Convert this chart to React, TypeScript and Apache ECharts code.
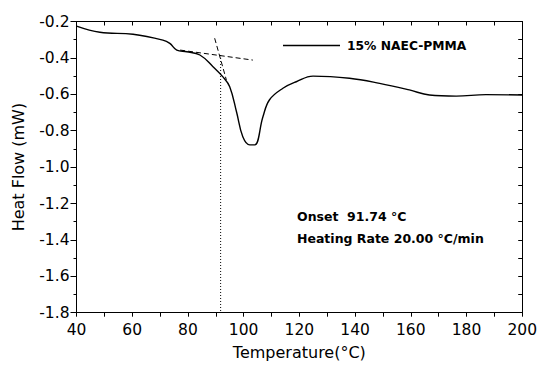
import React, { useEffect, useRef } from "react";
import * as echarts from "echarts";

const curveT = [40, 48.4, 60.3, 71, 73.5, 76, 79.6, 84.3, 89, 92.5, 95, 97.5, 99.7, 102.2, 104, 106.9, 109.3, 114.1, 118.9, 124.9, 138, 148.8, 159.5, 166.7, 176.3, 187, 200];
const curveHF = [-0.225, -0.259, -0.27, -0.302, -0.32, -0.357, -0.366, -0.384, -0.448, -0.503, -0.558, -0.7, -0.833, -0.878, -0.878, -0.725, -0.63, -0.567, -0.531, -0.5, -0.512, -0.54, -0.576, -0.604, -0.61, -0.602, -0.604];

const baseT = [77.2, 103.3];
const baseHF = [-0.357, -0.412];
const steepT = [89.6, 93.8];
const steepHF = [-0.292, -0.521];
const onsetT = [91.74, 91.74];
const onsetHF = [-0.384, -1.8];

const seriesName = "15% NAEC-PMMA";
const FONT = "DejaVu Sans";

const zip = (a: number[], b: number[]) => a.map((v, i) => [v, b[i]]);

export default function App() {
  const ref = useRef<HTMLDivElement>(null);
  useEffect(() => {
    const chart = echarts.init(ref.current!, null, { renderer: "svg" });
    const hiddenAxis = {
      axisLine: { show: true, onZero: false, lineStyle: { color: "#000", width: 1 } },
      axisLabel: { show: false },
      splitLine: { show: false },
    };
    chart.setOption({
      animation: false,
      backgroundColor: "#fff",
      grid: { left: 76.5, right: 17, top: 21.5, bottom: 56.3 },
      legend: {
        left: 278,
        top: 34.5,
        itemWidth: 57,
        itemHeight: 1.5,
        itemGap: 10,
        data: [{ name: seriesName, icon: "rect", itemStyle: { color: "#000" } }],
        textStyle: { fontFamily: FONT, fontWeight: "bold", fontSize: 12.3, color: "#000", padding: [0, 0, 0, 2] },
      },
      xAxis: [
        {
          type: "value",
          min: 40,
          max: 200,
          interval: 20,
          name: "Temperature(°C)",
          nameLocation: "middle",
          nameGap: 32,
          nameTextStyle: { fontFamily: FONT, fontSize: 16, color: "#000" },
          axisLine: { show: true, onZero: false, lineStyle: { color: "#000", width: 1 } },
          axisTick: { show: true, length: 4, lineStyle: { color: "#000" } },
          minorTick: { show: true, splitNumber: 2, length: 4, lineStyle: { color: "#000" } },
          axisLabel: { fontFamily: FONT, fontSize: 15.5, color: "#000", margin: 9 },
          splitLine: { show: false },
        },
        {
          type: "value",
          position: "top",
          min: 40,
          max: 200,
          interval: 20,
          ...hiddenAxis,
          axisTick: { show: true, inside: true, length: 4, lineStyle: { color: "#000" } },
          minorTick: { show: true, splitNumber: 2, length: 4, lineStyle: { color: "#000" } },
        },
      ],
      yAxis: [
        {
          type: "value",
          min: -1.8,
          max: -0.2,
          interval: 0.2,
          name: "Heat Flow (mW)",
          nameLocation: "middle",
          nameGap: 50,
          nameTextStyle: { fontFamily: FONT, fontSize: 16, color: "#000" },
          axisLine: { show: true, onZero: false, lineStyle: { color: "#000", width: 1 } },
          axisTick: { show: true, length: 6, lineStyle: { color: "#000" } },
          minorTick: { show: true, splitNumber: 2, length: 3, lineStyle: { color: "#000" } },
          axisLabel: {
            fontFamily: FONT,
            fontSize: 15.5,
            color: "#000",
            margin: 7,
            formatter: (v: number) => v.toFixed(1),
          },
          splitLine: { show: false },
        },
        {
          type: "value",
          position: "right",
          min: -1.8,
          max: -0.2,
          interval: 0.2,
          ...hiddenAxis,
          axisTick: { show: true, inside: true, length: 4, lineStyle: { color: "#000" } },
          minorTick: { show: true, splitNumber: 2, length: 4, lineStyle: { color: "#000" } },
        },
      ],
      series: [
        {
          name: seriesName,
          type: "line",
          data: zip(curveT, curveHF),
          smooth: 0.4,
          symbol: "none",
          lineStyle: { color: "#000", width: 1.4 },
          itemStyle: { color: "#000" },
        },
        {
          name: "baseline",
          type: "line",
          data: zip(baseT, baseHF),
          symbol: "none",
          lineStyle: { color: "#000", width: 1, type: [5, 3] },
        },
        {
          name: "tangent",
          type: "line",
          data: zip(steepT, steepHF),
          symbol: "none",
          lineStyle: { color: "#000", width: 1, type: [5, 3] },
        },
        {
          name: "onset",
          type: "line",
          data: zip(onsetT, onsetHF),
          symbol: "none",
          lineStyle: { color: "#000", width: 1, type: [1, 2] },
        },
      ],
      graphic: [
        {
          type: "text",
          left: 297,
          top: 210,
          style: { text: "Onset  91.74 °C", fontFamily: FONT, fontWeight: "bold", fontSize: 12.5, fill: "#000" },
        },
        {
          type: "text",
          left: 297,
          top: 232,
          style: { text: "Heating Rate 20.00 °C/min", fontFamily: FONT, fontWeight: "bold", fontSize: 12.5, fill: "#000" },
        },
      ],
    });
    return () => chart.dispose();
  }, []);
  return (
    <div style={{ position: "fixed", left: 0, top: 0, width: 540, height: 369, background: "#fff" }}>
      <div ref={ref} style={{ width: 540, height: 369 }} />
    </div>
  );
}
